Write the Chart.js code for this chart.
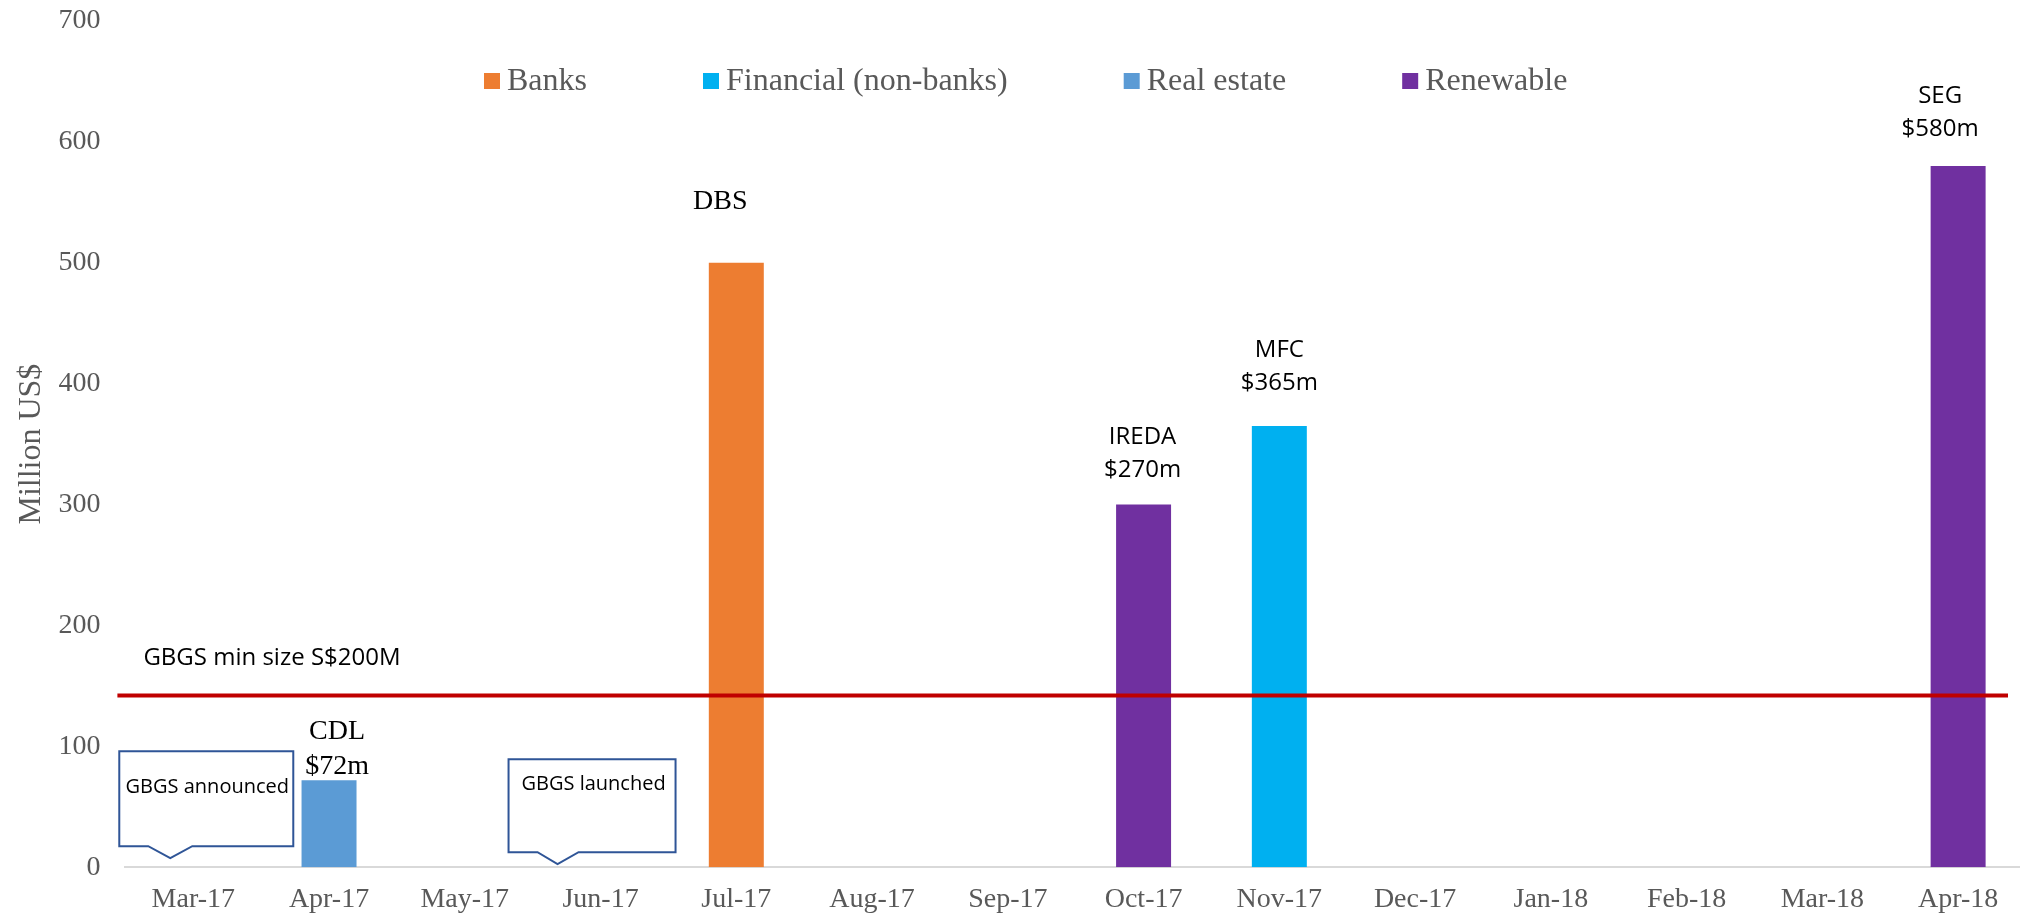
<!DOCTYPE html>
<html>
<head>
<meta charset="utf-8">
<script src="https://cdn.jsdelivr.net/npm/chart.js@4"></script>
<style>
  html, body { margin: 0; padding: 0; background: #fff; }
</style>
</head>
<body>
<canvas id="myChart" width="2020" height="916"></canvas>
<script>
// chart data
const months = ["Mar-17", "Apr-17", "May-17", "Jun-17", "Jul-17", "Aug-17", "Sep-17",
  "Oct-17", "Nov-17", "Dec-17", "Jan-18", "Feb-18", "Mar-18", "Apr-18"];
const banks      = [null, null, null, null, 500, null, null, null, null, null, null, null, null, null];
const financial  = [null, null, null, null, null, null, null, null, 365, null, null, null, null, null];
const realEstate = [null, 72, null, null, null, null, null, null, null, null, null, null, null, null];
const renewable  = [null, null, null, null, null, null, null, 300, null, null, null, null, null, 580];
const yTicks = [0, 100, 200, 300, 400, 500, 600, 700];
const minSize = 142; // GBGS min size S$200M, in US$m
const issuers = ["CDL", "DBS", "IREDA", "MFC", "SEG"];
const amounts = ["$72m", "", "$270m", "$365m", "$580m"];
const callouts = ["GBGS announced", "GBGS launched"];
const calloutMonths = [0, 3];

// where the issuer labels sit (dataset, month, offset from bar top)
const labelSpots = [
  { ds: 2, i: 1, dx: 8, dy: -49, serif: true },
  { ds: 0, i: 4, dx: -16, dy: -61, serif: true },
  { ds: 3, i: 7, dx: -1, dy: -67 },
  { ds: 1, i: 8, dx: 0, dy: -76 },
  { ds: 3, i: 13, dx: -18, dy: -70 },
];
// callout boxes, offsets from month centre / zero line
const calloutShapes = [
  { l: -74, r: 100, t: -116, b: -21, p1: -45, tip: -23, p2: -1, tipY: -9, tx: 14, ty: -80 },
  { l: -92, r: 75, t: -108, b: -15, p1: -63, tip: -43, p2: -22, tipY: -3, tx: -7, ty: -83 },
];

const sans = "'Open Sans', sans-serif";
const serif = "'Liberation Serif', 'Times New Roman', serif";

const overlay = {
  id: "overlay",
  afterLayout(chart) {
    // the last month runs a little past the right edge in the original
    const xs = chart.scales.x;
    xs.right += 6;
    xs.width += 6;
    xs.configure();
  },
  afterDatasetsDraw(chart) {
    const ctx = chart.ctx;
    const area = chart.chartArea;
    const xs = chart.scales.x;
    const ys = chart.scales.y;
    const zero = ys.getPixelForValue(0);
    ctx.save();

    // min size line
    const ly = ys.getPixelForValue(minSize);
    ctx.strokeStyle = "#C00000";
    ctx.lineWidth = 4;
    ctx.beginPath();
    ctx.moveTo(area.left - 8, ly);
    ctx.lineTo(xs.right - 18, ly);
    ctx.stroke();
    ctx.fillStyle = "#000";
    ctx.font = "24px " + sans;
    ctx.textAlign = "left";
    ctx.textBaseline = "middle";
    ctx.fillText("GBGS min size S$200M", area.left + 18, ly - 37);

    // issuer labels
    ctx.textAlign = "center";
    labelSpots.forEach((s, k) => {
      const bar = chart.getDatasetMeta(s.ds).data[s.i];
      ctx.font = s.serif ? "28px " + serif : "24px " + sans;
      const gap = s.serif ? 35 : 33;
      ctx.fillText(issuers[k], bar.x + s.dx, bar.y + s.dy);
      if (amounts[k]) ctx.fillText(amounts[k], bar.x + s.dx, bar.y + s.dy + gap);
    });

    // callouts
    ctx.strokeStyle = "#2F5597";
    ctx.lineWidth = 2;
    ctx.font = "20px " + sans;
    calloutShapes.forEach((c, k) => {
      const cx = xs.getPixelForValue(calloutMonths[k]);
      ctx.beginPath();
      ctx.moveTo(cx + c.l, zero + c.t);
      ctx.lineTo(cx + c.r, zero + c.t);
      ctx.lineTo(cx + c.r, zero + c.b);
      ctx.lineTo(cx + c.p2, zero + c.b);
      ctx.lineTo(cx + c.tip, zero + c.tipY);
      ctx.lineTo(cx + c.p1, zero + c.b);
      ctx.lineTo(cx + c.l, zero + c.b);
      ctx.closePath();
      ctx.fillStyle = "#fff";
      ctx.fill();
      ctx.stroke();
      ctx.fillStyle = "#000";
      ctx.fillText(callouts[k], cx + c.tx, zero + c.ty);
    });
    ctx.restore();
  },
  afterDraw(chart) {
    // legend inside the plot
    const ctx = chart.ctx;
    ctx.save();
    ctx.font = "32px " + serif;
    ctx.textBaseline = "middle";
    ctx.textAlign = "left";
    let x = 484;
    const y = 81;
    chart.data.datasets.forEach((d) => {
      ctx.fillStyle = d.backgroundColor;
      ctx.fillRect(x, y - 8, 16, 16);
      ctx.fillStyle = "#595959";
      ctx.fillText(d.label, x + 23, y + 1);
      x += 23 + ctx.measureText(d.label).width + 116;
    });
    ctx.restore();
  },
};

var ctx = document.getElementById("myChart");
var myChart = new Chart(ctx, {
  type: "bar",
  data: {
    labels: months,
    datasets: [
      { label: "Banks", data: banks, backgroundColor: "#ED7D31" },
      { label: "Financial (non-banks)", data: financial, backgroundColor: "#00B0F0" },
      { label: "Real estate", data: realEstate, backgroundColor: "#5B9BD5" },
      { label: "Renewable", data: renewable, backgroundColor: "#7030A0" },
    ],
  },
  options: {
    responsive: false,
    animation: false,
    skipNull: true,
    categoryPercentage: 1,
    barPercentage: 0.405,
    layout: { padding: { left: 0, top: 21, right: 0, bottom: -16 } },
    plugins: {
      legend: { display: false },
      tooltip: { enabled: false },
    },
    scales: {
      x: {
        grid: { display: false, drawTicks: false },
        border: { color: "#D9D9D9", width: 2 },
        ticks: {
          color: "#595959",
          font: { family: serif, size: 28, lineHeight: 1.1 },
          padding: 17,
          maxRotation: 0,
          autoSkip: false,
        },
      },
      y: {
        min: 0,
        max: 700,
        afterBuildTicks: (scale) => { scale.ticks = yTicks.map((v) => ({ value: v })); },
        afterFit: (scale) => { scale.paddingTop = 0; scale.paddingBottom = 0; },
        grid: { display: false, drawTicks: false },
        border: { display: false },
        ticks: {
          color: "#595959",
          font: { family: serif, size: 28 },
          padding: 25,
        },
        title: {
          display: true,
          text: "Million US$",
          color: "#595959",
          font: { family: serif, size: 32 },
          padding: { top: 12, bottom: -17 },
        },
      },
    },
  },
  plugins: [overlay],
});
</script>
</body>
</html>
